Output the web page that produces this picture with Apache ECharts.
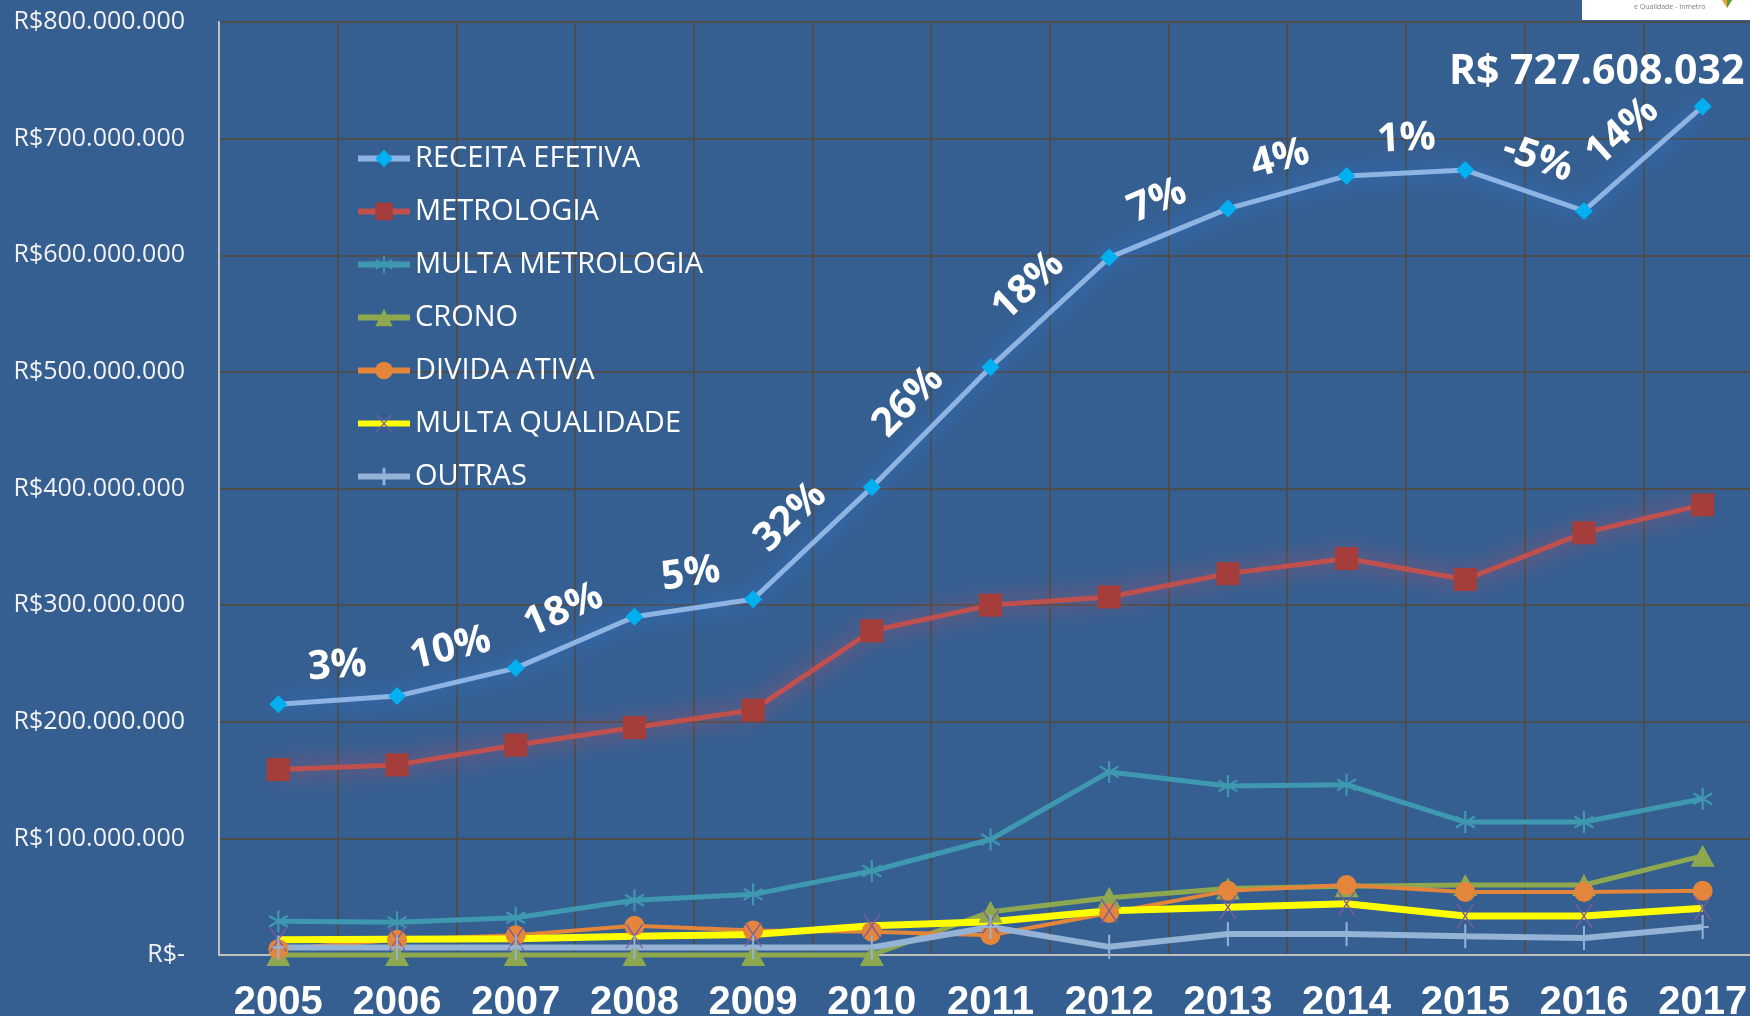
<!DOCTYPE html>
<html>
<head>
<meta charset="utf-8">
<script src="https://cdn.jsdelivr.net/npm/echarts@6/dist/echarts.min.js"></script>
<style>
html,body{margin:0;padding:0;background:#365F91;}
#chart{width:1750px;height:1016px;}
</style>
</head>
<body>
<div id="chart"></div>
<script>
// ---- data ----
const years = ['2005','2006','2007','2008','2009','2010','2011','2012','2013','2014','2015','2016','2017'];
const receitaEfetiva = [215e6, 222e6, 246e6, 290e6, 305e6, 401e6, 504e6, 598e6, 640e6, 668e6, 673e6, 638e6, 727608032];
const metrologia = [159e6, 163e6, 180e6, 195e6, 210e6, 278e6, 300e6, 307e6, 327e6, 340e6, 322e6, 362e6, 386e6];
const multaMetrologia = [29e6, 28e6, 32e6, 47e6, 52e6, 72e6, 99e6, 157e6, 145e6, 146e6, 114e6, 114e6, 134e6];
const crono = [0, 0, 0, 0, 0, 0, 37e6, 49e6, 57e6, 59e6, 60e6, 60e6, 85e6];
const dividaAtiva = [5e6, 13e6, 17e6, 25e6, 21e6, 20e6, 17e6, 36e6, 55e6, 60e6, 54e6, 54e6, 55e6];
const multaQualidade = [13e6, 13.5e6, 14e6, 16e6, 17.5e6, 25e6, 28.5e6, 38e6, 41e6, 44e6, 33.5e6, 33.5e6, 40e6];
const outras = [6.5e6, 6.5e6, 6.5e6, 6.5e6, 6.5e6, 6.5e6, 24e6, 7e6, 18e6, 18e6, 16e6, 14.5e6, 24e6];
const growthLabels = ['3%','10%','18%','5%','32%','26%','18%','7%','4%','1%','-5%','14%'];
const yTicks = { min: 0, max: 800e6, interval: 100e6 };

function fmtBR(v){ return Math.round(v).toString().replace(/\B(?=(\d{3})+(?!\d))/g, '.'); }

const asterisk = 'path://M-1,-10 L-1,10 L1,10 L1,-10 Z M9.16,4.13 L-8.16,-5.87 L-9.16,-4.13 L8.16,5.87 Z M-9.16,4.13 L-8.16,5.87 L9.16,-4.13 L8.16,-5.87 Z';
const xMark = 'path://M-8,-10 L-6.5,-10 L8,10 L6.5,10 Z M6.5,-10 L8,-10 L-6.5,10 L-8,10 Z';
const plusMark = 'path://M-1,-11 L-1,11 L1,11 L1,-11 Z M-6,-1 L-6,1 L6,1 L6,-1 Z';

const growthData = growthLabels.map((l, i) => [i, receitaEfetiva[i], receitaEfetiva[i+1]]);

const chart = echarts.init(document.getElementById('chart'));
const option = {
  backgroundColor: '#365F91',
  animation: false,
  grid: { left: 219, top: 22, width: 1543, height: 933, outerBoundsMode: 'none', containLabel: false,
    show: true, borderColor: '#BFBFBF', borderWidth: 2, backgroundColor: 'transparent' },
  legend: {
    orient: 'vertical', left: 355, top: 144, padding: 0,
    itemWidth: 52, itemHeight: 22, itemGap: 24,
    lineStyle: { width: 6 },
    textStyle: { color: '#FFFFFF', fontSize: 29, fontFamily: 'Open Sans' },
    data: ['RECEITA EFETIVA','METROLOGIA','MULTA METROLOGIA','CRONO','DIVIDA ATIVA','MULTA QUALIDADE','OUTRAS']
  },
  xAxis: {
    type: 'category', data: years, boundaryGap: true,
    axisLine: { lineStyle: { color: '#BFBFBF', width: 2 } },
    axisTick: { show: false },
    axisLabel: { interval: 0, color: '#FFFFFF', fontSize: 40, fontWeight: 'bold', fontFamily: '"Liberation Sans", Arial', margin: 28 },
    splitLine: { show: true, interval: 0, lineStyle: { color: '#4D4D4D', width: 2 } }
  },
  yAxis: {
    type: 'value', min: yTicks.min, max: yTicks.max, interval: yTicks.interval,
    axisLine: { show: true, lineStyle: { color: '#BFBFBF', width: 2 } },
    axisTick: { show: false },
    axisLabel: { color: '#F2F2F2', fontSize: 25, fontFamily: 'Open Sans', margin: 34,
      formatter: v => v === 0 ? 'R$-' : 'R$' + fmtBR(v) },
    splitLine: { lineStyle: { color: '#4D4D4D', width: 2 } }
  },
  graphic: [
    { type: 'rect', left: 1582, top: 0, shape: { width: 168, height: 20 }, style: { fill: '#FFFFFF' }, z: 10 },
    { type: 'text', left: 1634, top: 3, style: { text: 'e Qualidade - Inmetro', fill: '#7F7F7F', fontSize: 7, fontFamily: 'Open Sans' }, z: 11 },
    { type: 'polygon', shape: { points: [[1722,0],[1732,0],[1727,8]] }, style: { fill: '#E8A33A' }, z: 11 },
    { type: 'polygon', shape: { points: [[1727,0],[1732,0],[1727,8]] }, style: { fill: '#5C9A3E' }, z: 11 }
  ],
  series: [
    { name: 'RECEITA EFETIVA', type: 'line', data: receitaEfetiva, clip: false,
      symbol: 'diamond', symbolSize: 18,
      lineStyle: { color: '#8DB4E2', width: 5, shadowColor: 'rgba(40,130,240,0.85)', shadowBlur: 22 },
      itemStyle: { color: '#00B0F0' },
      label: { show: true, position: 'top', offset: [-106, 0], color: '#FFFFFF', fontSize: 41, fontWeight: 'bold', fontFamily: 'Open Sans',
        formatter: p => p.dataIndex === receitaEfetiva.length - 1 ? 'R$ ' + fmtBR(p.value) : '' },
      z: 3 },
    { name: 'METROLOGIA', type: 'line', data: metrologia, clip: false,
      symbol: 'rect', symbolSize: 23,
      lineStyle: { color: '#C0504D', width: 5, shadowColor: 'rgba(235,75,85,0.85)', shadowBlur: 22 },
      itemStyle: { color: '#A53E3B' }, z: 3 },
    { name: 'MULTA METROLOGIA', type: 'line', data: multaMetrologia, clip: false,
      symbol: asterisk, symbolSize: [20, 22],
      lineStyle: { color: '#3E98B0', width: 5 },
      itemStyle: { color: '#3E98B0' }, z: 3 },
    { name: 'CRONO', type: 'line', data: crono, clip: false,
      symbol: 'triangle', symbolSize: [24, 22],
      lineStyle: { color: '#8DA84F', width: 5 },
      itemStyle: { color: '#8DA84F' }, z: 3 },
    { name: 'DIVIDA ATIVA', type: 'line', data: dividaAtiva, clip: false,
      symbol: 'circle', symbolSize: 20,
      lineStyle: { color: '#E3853A', width: 4 },
      itemStyle: { color: '#E3853A' }, z: 3 },
    { name: 'MULTA QUALIDADE', type: 'line', data: multaQualidade, clip: false,
      symbol: xMark, symbolSize: [18, 24],
      lineStyle: { color: '#FFFF00', width: 7 },
      itemStyle: { color: '#7D5E9C' }, z: 3 },
    { name: 'OUTRAS', type: 'line', data: outras, clip: false,
      symbol: plusMark, symbolSize: [12, 24],
      lineStyle: { color: '#95B3D7', width: 6 },
      itemStyle: { color: '#95B3D7' }, z: 3 },
    { name: 'growth', type: 'custom', data: growthData, clip: false, z: 5,
      encode: { x: 0, y: 1 },
      renderItem: function (params, api) {
        const i = api.value(0);
        const p1 = api.coord([i, api.value(1)]);
        const p2 = api.coord([i + 1, api.value(2)]);
        const dx = p2[0] - p1[0], dy = p2[1] - p1[1];
        const len = Math.sqrt(dx*dx + dy*dy);
        const ux = dx / len, uy = dy / len;
        const nx = uy, ny = -ux;
        const off = 34, along = 2;
        return {
          type: 'text',
          x: (p1[0] + p2[0]) / 2 + nx * off + ux * along,
          y: (p1[1] + p2[1]) / 2 + ny * off + uy * along,
          rotation: -Math.atan2(dy, dx),
          style: { text: growthLabels[params.dataIndex], fill: '#FFFFFF', font: 'bold 40px "Open Sans"', align: 'center', verticalAlign: 'middle' }
        };
      }
    }
  ]
};
chart.setOption(option);
</script>
</body>
</html>
